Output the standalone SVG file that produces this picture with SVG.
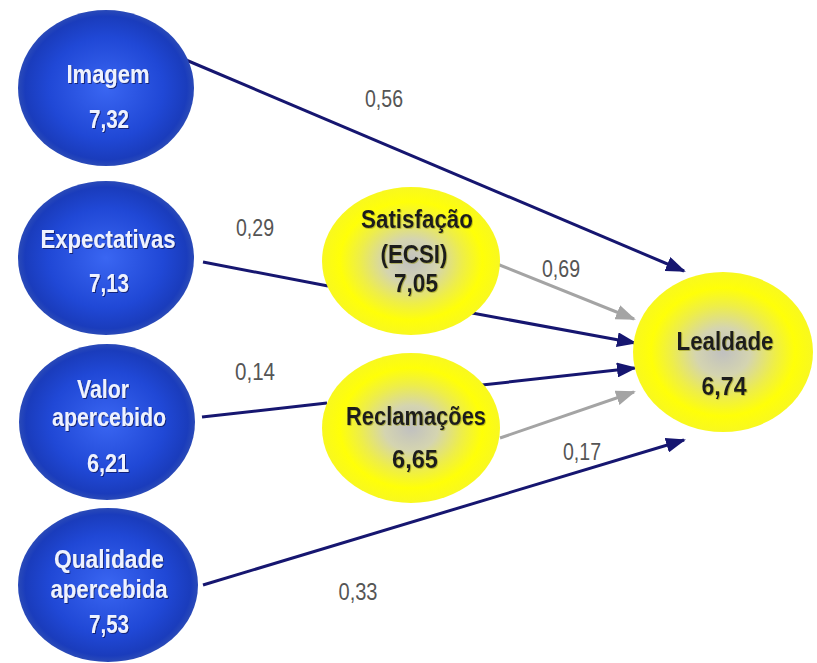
<svg xmlns="http://www.w3.org/2000/svg" width="817" height="663" viewBox="0 0 817 663">
<defs>
<radialGradient id="gBlue" cx="50%" cy="50%" r="50%">
<stop offset="0%" stop-color="#3a66f2"/>
<stop offset="65%" stop-color="#2048d6"/>
<stop offset="92%" stop-color="#1a3cbc"/>
<stop offset="100%" stop-color="#2a4ab8"/>
</radialGradient>
<radialGradient id="gYellow" cx="50%" cy="50%" r="50%">
<stop offset="0%" stop-color="#c0c0c0"/>
<stop offset="30%" stop-color="#d4d4b0"/>
<stop offset="58%" stop-color="#eeee48"/>
<stop offset="80%" stop-color="#ffff08"/>
<stop offset="100%" stop-color="#f8f820"/>
</radialGradient>
<filter id="shW" x="-10%" y="-30%" width="120%" height="160%">
<feDropShadow dx="1" dy="1" stdDeviation="0.6" flood-color="#0a1a60" flood-opacity="0.8"/>
</filter>
<filter id="shB" x="-10%" y="-30%" width="120%" height="160%">
<feDropShadow dx="0.8" dy="0.8" stdDeviation="0.6" flood-color="#888800" flood-opacity="0.6"/>
</filter>
<marker id="aNavy" viewBox="0 0 10 10" preserveAspectRatio="none" refX="9" refY="5" markerWidth="20" markerHeight="15" markerUnits="userSpaceOnUse" orient="auto">
<path d="M0,0 L10,5 L0,10 z" fill="#161670"/>
</marker>
<marker id="aGray" viewBox="0 0 10 10" preserveAspectRatio="none" refX="9" refY="5" markerWidth="20" markerHeight="15" markerUnits="userSpaceOnUse" orient="auto">
<path d="M0,0 L10,5 L0,10 z" fill="#a4a4a4"/>
</marker>
</defs>
<style>
.blue{fill:url(#gBlue);}
.yel{fill:url(#gYellow);}
.tw{font-family:"Liberation Sans",Arial,sans-serif;font-weight:bold;font-size:25px;fill:#eef2ff;text-anchor:middle;filter:url(#shW);}
.tb{font-family:"Liberation Sans",Arial,sans-serif;font-weight:bold;font-size:25px;fill:#1e1e1e;text-anchor:middle;filter:url(#shB);}
.lbl{font-family:"Liberation Sans",Arial,sans-serif;font-size:23px;fill:#555555;text-anchor:middle;}
.navy{stroke:#161670;stroke-width:3;fill:none;}
.gray{stroke:#a4a4a4;stroke-width:3;fill:none;}
</style>
<rect width="817" height="663" fill="#ffffff"/>

<g id="connectors">
<line class="navy" x1="186" y1="60" x2="684" y2="271" marker-end="url(#aNavy)"/>
<line class="navy" x1="203" y1="262" x2="328" y2="286"/>
<line class="gray" x1="492" y1="262" x2="634" y2="319" marker-end="url(#aGray)"/>
<line class="navy" x1="472" y1="313" x2="635" y2="343" marker-end="url(#aNavy)"/>
<line class="navy" x1="202" y1="417" x2="327" y2="403"/>
<line class="navy" x1="482" y1="385" x2="635" y2="368" marker-end="url(#aNavy)"/>
<line class="gray" x1="500" y1="438" x2="634" y2="392" marker-end="url(#aGray)"/>
<line class="navy" x1="203" y1="585" x2="684" y2="440" marker-end="url(#aNavy)"/>
</g>

<g id="labels">
<text class="lbl" x="384" y="107" textLength="38" lengthAdjust="spacingAndGlyphs">0,56</text>
<text class="lbl" x="255" y="236" textLength="38" lengthAdjust="spacingAndGlyphs">0,29</text>
<text class="lbl" x="561" y="277" textLength="38" lengthAdjust="spacingAndGlyphs">0,69</text>
<text class="lbl" x="255" y="380" textLength="40" lengthAdjust="spacingAndGlyphs">0,14</text>
<text class="lbl" x="582" y="460" textLength="38" lengthAdjust="spacingAndGlyphs">0,17</text>
<text class="lbl" x="358" y="600" textLength="39" lengthAdjust="spacingAndGlyphs">0,33</text>
</g>

<g id="imagem">
<ellipse class="blue" cx="106" cy="88" rx="88" ry="78"/>
<text class="tw" x="108" y="83" textLength="83" lengthAdjust="spacingAndGlyphs">Imagem</text>
<text class="tw" x="109" y="128" textLength="40" lengthAdjust="spacingAndGlyphs">7,32</text>
</g>

<g id="expectativas">
<ellipse class="blue" cx="106" cy="258" rx="88" ry="77"/>
<text class="tw" x="108" y="248" textLength="135" lengthAdjust="spacingAndGlyphs">Expectativas</text>
<text class="tw" x="109" y="292" textLength="40" lengthAdjust="spacingAndGlyphs">7,13</text>
</g>

<g id="valor">
<ellipse class="blue" cx="107" cy="422" rx="88" ry="78"/>
<text class="tw" x="103" y="398" textLength="52" lengthAdjust="spacingAndGlyphs">Valor</text>
<text class="tw" x="109" y="426" textLength="114" lengthAdjust="spacingAndGlyphs">apercebido</text>
<text class="tw" x="108" y="472" textLength="42" lengthAdjust="spacingAndGlyphs">6,21</text>
</g>

<g id="qualidade">
<ellipse class="blue" cx="108" cy="585" rx="90" ry="77"/>
<text class="tw" x="109" y="568" textLength="110" lengthAdjust="spacingAndGlyphs">Qualidade</text>
<text class="tw" x="109" y="598" textLength="117" lengthAdjust="spacingAndGlyphs">apercebida</text>
<text class="tw" x="109" y="633" textLength="40" lengthAdjust="spacingAndGlyphs">7,53</text>
</g>

<g id="satisfacao">
<ellipse class="yel" cx="411" cy="261" rx="89" ry="74"/>
<text class="tb" x="417" y="228" textLength="112" lengthAdjust="spacingAndGlyphs">Satisfação</text>
<text class="tb" x="414" y="263" textLength="67" lengthAdjust="spacingAndGlyphs">(ECSI)</text>
<text class="tb" x="416" y="292" textLength="44" lengthAdjust="spacingAndGlyphs">7,05</text>
</g>

<g id="reclamacoes">
<ellipse class="yel" cx="411" cy="428" rx="89" ry="75"/>
<text class="tb" x="416" y="425" textLength="140" lengthAdjust="spacingAndGlyphs">Reclamações</text>
<text class="tb" x="415" y="468" textLength="46" lengthAdjust="spacingAndGlyphs">6,65</text>
</g>

<g id="lealdade">
<ellipse class="yel" cx="723" cy="352" rx="90" ry="80"/>
<text class="tb" x="725" y="350" textLength="97" lengthAdjust="spacingAndGlyphs">Lealdade</text>
<text class="tb" x="724" y="395" textLength="45" lengthAdjust="spacingAndGlyphs">6,74</text>
</g>
</svg>
